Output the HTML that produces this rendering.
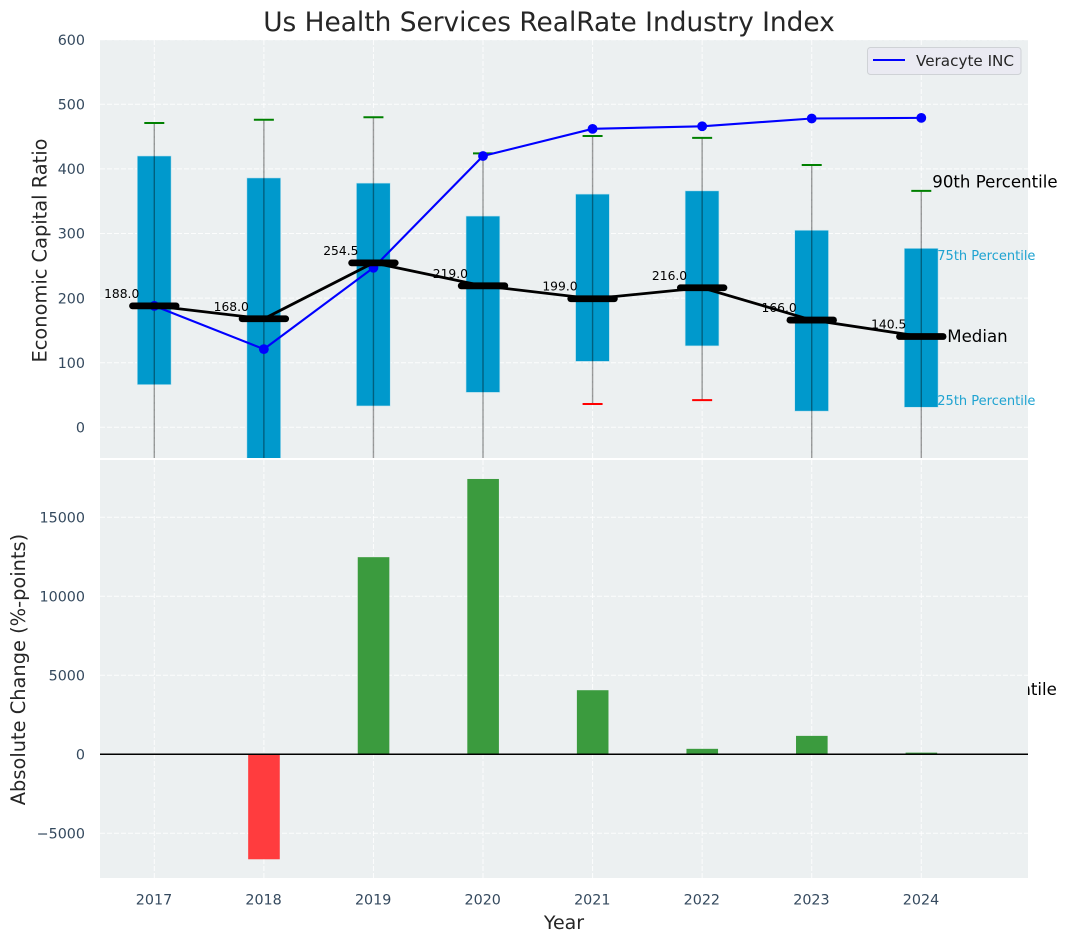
<!DOCTYPE html>
<html lang="en">
<head>
<meta charset="utf-8">
<title>Us Health Services RealRate Industry Index</title>
<style>
  html, body { margin: 0; padding: 0; background: #fff; }
  svg { display: block; font-family: "DejaVu Sans", "Liberation Sans", sans-serif; }
</style>
</head>
<body>
<svg id="chart" width="1067" height="942" viewBox="0 0 1067 942" xmlns="http://www.w3.org/2000/svg">
  <defs>
    <clipPath id="top-clip"><rect x="100" y="40" width="928" height="418"></rect></clipPath>
    <clipPath id="bottom-clip"><rect x="100" y="460" width="928" height="418"></rect></clipPath>
  </defs>
</svg>
<script>
const years = [2017, 2018, 2019, 2020, 2021, 2022, 2023, 2024];
const p90 = [471, 476, 480, 424, 451, 448, 406, 366];
const p75 = [420, 386, 378, 327, 361, 366, 305, 277];
const medians = [188.0, 168.0, 254.5, 219.0, 199.0, 216.0, 166.0, 140.5];
const p25 = [66, -60, 33, 54, 102, 126, 25, 31];
const p10 = [-150, -200, -120, -110, 36, 42, -130, -420];
const company = [188, 121, 247, 420, 462, 466, 478, 479];
const changes = [0, -6650, 12470, 17420, 4050, 340, 1160, 100];
const topTicks = [0, 100, 200, 300, 400, 500, 600];
const bottomTicks = [-5000, 0, 5000, 10000, 15000];
const titleText = 'Us Health Services RealRate Industry Index';
const seriesName = 'Veracyte INC';

const svg = document.getElementById('chart');
const NS = 'http://www.w3.org/2000/svg';
const xScale = v => 154.3 + (v - 2017) * 109.57;
const yTop = v => 427.3 - v * 0.646;
const yBottom = v => 754.2 - v * 0.0158;
const fmtTick = v => (v < 0 ? '\u2212' + Math.abs(v) : String(v));
const gridDash = '5 2';

function make(tag, attrs, parent, text) {
  const el = document.createElementNS(NS, tag);
  for (const k in attrs) el.setAttribute(k, attrs[k]);
  if (text !== undefined) el.textContent = text;
  (parent || svg).appendChild(el);
  return el;
}
function group(clip) {
  return make('g', clip ? { 'clip-path': 'url(#' + clip + ')' } : {});
}

/* ---------- panel backgrounds and grids ---------- */
const topBg = make('rect', { x: 100, y: 40, width: 928, height: 418, fill: '#ecf0f1' });



const topGrid = group('top-clip');


topTicks.forEach(t => {
  const line = make('line', { x1: 100, x2: 1028, y1: yTop(t), y2: yTop(t), stroke: '#fff', 'stroke-opacity': 0.85, 'stroke-width': 1, 'stroke-dasharray': gridDash }, topGrid);
  
  
});
years.forEach(y => {
  const line = make('line', { x1: xScale(y), x2: xScale(y), y1: 40, y2: 458, stroke: '#fff', 'stroke-opacity': 0.85, 'stroke-width': 1, 'stroke-dasharray': gridDash }, topGrid);
  
  
});

/* ---------- percentile boxes and whiskers ---------- */
const marks = group('top-clip');


years.forEach((y, i) => {
  const cx = xScale(y);
  const box = make('rect', {
    x: cx - 17, y: yTop(p75[i]), width: 33.8, height: yTop(p25[i]) - yTop(p75[i]),
    fill: '#0099cc', stroke: '#bfe3ee', 'stroke-width': 0.6
  }, marks);
  
  

  const whisker = make('line', { x1: cx, x2: cx, y1: yTop(p90[i]), y2: yTop(p10[i]), stroke: '#000', 'stroke-opacity': 0.38, 'stroke-width': 1.4 }, marks);
  
  

  const capHigh = make('line', { x1: cx - 10, x2: cx + 10, y1: yTop(p90[i]), y2: yTop(p90[i]), stroke: '#008000', 'stroke-width': 2 }, marks);
  
  

  const capLow = make('line', { x1: cx - 10, x2: cx + 10, y1: yTop(p10[i]), y2: yTop(p10[i]), stroke: '#ff0000', 'stroke-width': 2 }, marks);
  
  
});

/* ---------- company series ---------- */
const companyGroup = group('top-clip');


const companyLine = make('polyline', {
  points: years.map((y, i) => xScale(y) + ',' + yTop(company[i])).join(' '),
  fill: 'none', stroke: '#0000ff', 'stroke-width': 2.1
}, companyGroup);


years.forEach((y, i) => {
  const dot = make('circle', { cx: xScale(y), cy: yTop(company[i]), r: 4.9, fill: '#0000ff' }, companyGroup);
  
  
});

/* ---------- median series ---------- */
const medianGroup = group('top-clip');


const medianLine = make('polyline', {
  points: years.map((y, i) => xScale(y) + ',' + yTop(medians[i])).join(' '),
  fill: 'none', stroke: '#000', 'stroke-width': 2.8
}, medianGroup);


years.forEach((y, i) => {
  const bar = make('line', {
    x1: xScale(y) - 21.8, x2: xScale(y) + 21.8, y1: yTop(medians[i]), y2: yTop(medians[i]),
    stroke: '#000', 'stroke-width': 6.8, 'stroke-linecap': 'round'
  }, medianGroup);
  
  
});

years.forEach((y, i) => {
  const label = make('text', {
    x: xScale(y) - 15, y: yTop(medians[i]) - 8, 'text-anchor': 'end',
    'font-size': 12.3, fill: '#000'
  }, svg, medians[i].toFixed(1));
  
  
});

/* ---------- percentile annotations for the last year ---------- */
const lastIndex = years.length - 1;
const lastX = xScale(years[lastIndex]);

const ann90 = make('text', { x: lastX + 11, y: yTop(p90[lastIndex]) - 3.5, 'font-size': 16.6, fill: '#000' }, svg, '90th Percentile');



const ann75 = make('text', { x: lastX + 16, y: yTop(p75[lastIndex]) + 11.5, 'font-size': 13, fill: '#1fa3d1' }, svg, '75th Percentile');



const annMedian = make('text', { x: lastX + 26, y: yTop(medians[lastIndex]) + 5.5, 'font-size': 16.6, fill: '#000' }, svg, 'Median');



const ann25 = make('text', { x: lastX + 16, y: yTop(p25[lastIndex]) - 2.5, 'font-size': 13, fill: '#1fa3d1' }, svg, '25th Percentile');



const ann10 = make('text', { x: lastX + 10.3, y: yTop(p10[lastIndex]) - 3.5, 'font-size': 16.6, fill: '#000' }, svg, '10th Percentile');



/* ---------- legend ---------- */
const legend = make('g', {});


const legendBox = make('rect', { x: 867.5, y: 47.5, width: 153.5, height: 27, rx: 3, fill: '#eaeaf2', stroke: '#cfd2d6', 'stroke-width': 1 }, legend);


const legendLine = make('line', { x1: 873, x2: 905, y1: 60, y2: 60, stroke: '#0000ff', 'stroke-width': 2 }, legend);


const legendText = make('text', { x: 916, y: 66, 'font-size': 15.2, fill: '#262626' }, legend, seriesName);



/* ---------- bottom panel ---------- */
const bottomBg = make('rect', { x: 100, y: 460, width: 928, height: 418, fill: '#ecf0f1' });



const bottomGrid = group('bottom-clip');


bottomTicks.forEach(t => {
  const line = make('line', { x1: 100, x2: 1028, y1: yBottom(t), y2: yBottom(t), stroke: '#fff', 'stroke-opacity': 0.85, 'stroke-width': 1, 'stroke-dasharray': gridDash }, bottomGrid);
  
  
});
years.forEach(y => {
  const line = make('line', { x1: xScale(y), x2: xScale(y), y1: 460, y2: 878, stroke: '#fff', 'stroke-opacity': 0.85, 'stroke-width': 1, 'stroke-dasharray': gridDash }, bottomGrid);
  
  
});

const bars = group('bottom-clip');


years.forEach((y, i) => {
  const v = changes[i];
  const top = Math.min(yBottom(v), yBottom(0));
  const bar = make('rect', {
    x: xScale(y) - 15.7, y: top, width: 31.6, height: Math.abs(yBottom(v) - yBottom(0)),
    fill: v >= 0 ? '#3b9b3e' : '#ff3c3e'
  }, bars);
  
  
});

const zeroLine = make('line', { x1: 100, x2: 1028, y1: yBottom(0), y2: yBottom(0), stroke: '#000', 'stroke-width': 1.5 });



/* ---------- tick labels ---------- */
topTicks.forEach(t => {
  const label = make('text', { x: 85, y: yTop(t) + 5.2, 'text-anchor': 'end', 'font-size': 14.3, fill: '#34495e' }, svg, fmtTick(t));
  
  
});
bottomTicks.forEach(t => {
  const label = make('text', { x: 85, y: yBottom(t) + 5.2, 'text-anchor': 'end', 'font-size': 14.3, fill: '#34495e' }, svg, fmtTick(t));
  
  
});
years.forEach(y => {
  const label = make('text', { x: xScale(y) - 0.3, y: 904.5, 'text-anchor': 'middle', 'font-size': 14.3, fill: '#34495e' }, svg, String(y));
  
  
});

/* ---------- titles ---------- */
const title = make('text', { x: 549, y: 31, 'text-anchor': 'middle', 'font-size': 26.4, fill: '#262626' }, svg, titleText);



const yTitleTop = make('text', { x: 0, y: 0, transform: 'translate(46.5,250.5) rotate(-90)', 'text-anchor': 'middle', 'font-size': 19.4, fill: '#262626' }, svg, 'Economic Capital Ratio');



const yTitleBottom = make('text', { x: 0, y: 0, transform: 'translate(25,669.5) rotate(-90)', 'text-anchor': 'middle', 'font-size': 19.4, fill: '#262626' }, svg, 'Absolute Change (%-points)');



const xTitle = make('text', { x: 564, y: 929, 'text-anchor': 'middle', 'font-size': 19, fill: '#262626' }, svg, 'Year');


</script>
</body>
</html>
